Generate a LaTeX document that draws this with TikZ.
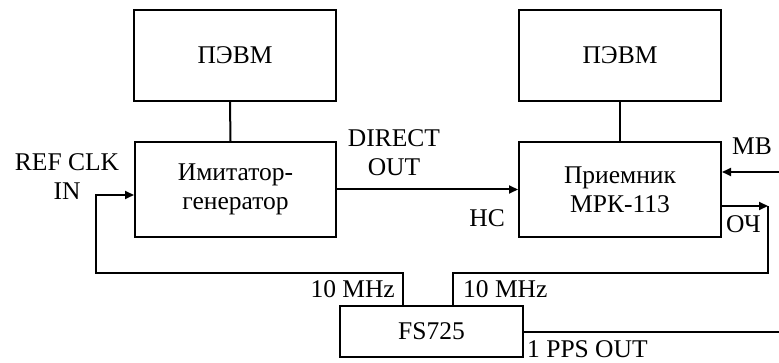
\documentclass[tikz,border=0pt]{standalone}
\usepackage{fontspec}
\setmainfont{Liberation Serif}
\usetikzlibrary{arrows.meta}
\tikzset{
  blk/.style={draw, line width=2pt, inner sep=0pt, align=center, font=\fontsize{25.5}{29}\selectfont},
  lbl/.style={inner sep=0pt, align=center, font=\fontsize{25.5}{29}\selectfont},
  wire/.style={line width=2pt},
  arr/.style={wire, -{Triangle[length=9pt,width=8pt]}}
}
\begin{document}
\begin{tikzpicture}[x=1pt,y=-1pt]
\useasboundingbox (0,0) rectangle (779,363);
\node[blk, minimum width=202pt, minimum height=91pt] (pc1) at (235,55.5) {ПЭВМ};
\node[blk, minimum width=202pt, minimum height=91pt] (pc2) at (620,55.5) {ПЭВМ};
\node[blk, minimum width=201pt, minimum height=95pt] (imit) at (235.5,189.5) {Имитатор-\\генератор};
\node[blk, minimum width=202pt, minimum height=95pt] (rcv) at (620,189.5) {Приемник\\МРК-113};
\node[blk, minimum width=183pt, minimum height=51pt] (fs) at (431.5,331.5) {FS725};

\coordinate (mbin) at (779,172);
\coordinate (ochc) at (768,206);
\coordinate (topr) at (453,273);
\coordinate (topl) at (403,273);
\coordinate (refc) at (96,273);
\coordinate (ppsc) at (779,332);

\draw[wire] ([xshift=-5pt]pc1.south) -- ([xshift=-5pt]imit.north);
\draw[wire] (pc2.south) -- (rcv.north);
\draw[arr] (imit.east) -- (rcv.west);
\draw[arr] (mbin) -- (rcv.east |- mbin);
\draw[arr] (rcv.east |- ochc) -- (ochc);
\draw[wire] ([xshift=21.5pt]fs.north) -- (topr) -| (ochc);
\draw[arr] ([xshift=-28.5pt]fs.north) -- (topl) -- (refc) |- ([yshift=-5.5pt]imit.west);
\draw[wire] (fs.east |- ppsc) -- (ppsc);

\node[lbl, anchor=base] (refl) at (67,200) {REF CLK\\IN};
\node[lbl, anchor=base] (dirl) at (394,176) {DIRECT\\OUT};
\node[lbl, anchor=base east] (hcl) at (505,227) {НС};
\node[lbl, anchor=base west] (mbl) at (732,155) {МВ};
\node[lbl, anchor=base west] (ochl) at (726,233) {ОЧ};
\node[lbl, anchor=base east] (f1l) at (395,298) {10 MHz};
\node[lbl, anchor=base west] (f2l) at (463,298) {10 MHz};
\node[lbl, anchor=base west] (ppsl) at (527,357) {1 PPS OUT};
\end{tikzpicture}
\end{document}
